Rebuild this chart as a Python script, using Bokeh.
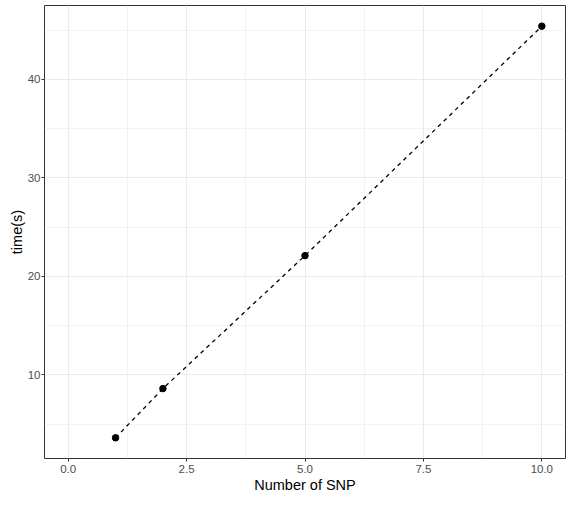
from bokeh.plotting import figure
from bokeh.models import FixedTicker, Range1d
from bokeh.embed import file_html
from bokeh.resources import INLINE

n_snp = [1, 2, 5, 10]
time_s = [3.6, 8.6, 22.1, 45.4]

x_ticks = [0, 2.5, 5, 7.5, 10]
x_tick_labels = ["0.0", "2.5", "5.0", "7.5", "10.0"]
x_minor = [1.25, 3.75, 6.25, 8.75]
y_ticks = [10, 20, 30, 40]
y_tick_labels = ["10", "20", "30", "40"]
y_minor = [5, 15, 25, 35, 45]

p = figure(width=567, height=495, output_backend="svg", toolbar_location=None,
           x_range=Range1d(-0.5, 10.5), y_range=Range1d(1.5, 47.5),
           min_border_left=44, min_border_right=2, min_border_top=5, min_border_bottom=30)

p.background_fill_color = "white"
p.border_fill_color = "white"
p.outline_line_color = "#333333"
p.outline_line_width = 1

p.xaxis.ticker = FixedTicker(ticks=x_ticks, minor_ticks=x_minor)
p.yaxis.ticker = FixedTicker(ticks=y_ticks, minor_ticks=y_minor)
p.xaxis.major_label_overrides = {t: l for t, l in zip(x_ticks, x_tick_labels)}
p.yaxis.major_label_overrides = {t: l for t, l in zip(y_ticks, y_tick_labels)}

for ax in (p.xaxis, p.yaxis):
    ax.axis_line_color = None
    ax.major_tick_line_color = "#333333"
    ax.major_tick_in = 0
    ax.major_tick_out = 3
    ax.minor_tick_line_color = None
    ax.major_label_text_font = "Liberation Sans"
    ax.major_label_text_font_size = "11.5px"
    ax.major_label_text_color = "#4D4D4D"
    ax.axis_label_text_font = "Liberation Sans"
    ax.axis_label_text_font_size = "14.5px"
    ax.axis_label_text_font_style = "normal"
    ax.axis_label_text_color = "black"

p.xaxis.major_label_standoff = 2
p.yaxis.major_label_standoff = 0
p.xaxis.axis_label_standoff = 1
p.yaxis.axis_label_standoff = 0

p.xaxis.axis_label = "Number of SNP"
p.yaxis.axis_label = "time(s)"

for g in (p.xgrid, p.ygrid):
    g.grid_line_color = "#EBEBEB"
    g.grid_line_width = 1.1
    g.minor_grid_line_color = "#EBEBEB"
    g.minor_grid_line_width = 0.6

p.line(n_snp, time_s, line_color="black", line_width=1.3, line_dash="4 4")
p.scatter(n_snp, time_s, size=6.5, fill_color="black", line_color="black")

open("out.html", "w").write(file_html(p, INLINE))
